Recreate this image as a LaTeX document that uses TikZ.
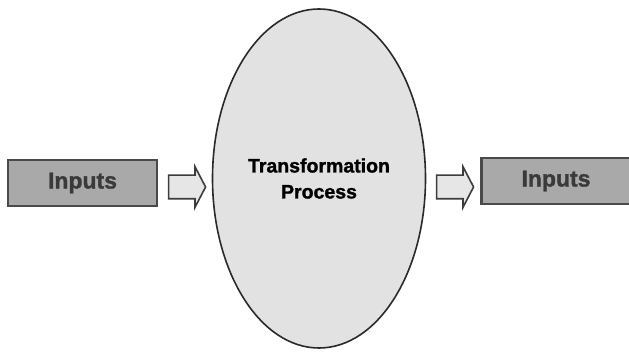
\documentclass[tikz,border=0pt]{standalone}
\usepackage{fontspec}
\setmainfont{Liberation Sans}
\newfontfamily\heavyfont[FakeBold=1.4]{Liberation Sans Bold}
\usetikzlibrary{shapes.geometric,shapes.arrows}
\definecolor{boxfill}{HTML}{A9A9A9}
\definecolor{boxedge}{HTML}{4A4A4A}
\definecolor{boxtext}{HTML}{3A3A3A}
\definecolor{ovalfill}{HTML}{E2E2E2}
\definecolor{ovaledge}{HTML}{2A2A2A}
\definecolor{arrowfill}{HTML}{E6E6E6}
\definecolor{arrowedge}{HTML}{3C3C3C}
\begin{document}
\begin{tikzpicture}[x=1pt,y=-1pt,
  inbox/.style={draw=boxedge,line width=2.2pt,fill=boxfill,
    minimum width=149pt,minimum height=46pt,inner sep=0pt,
    font=\heavyfont\fontsize{23}{24}\selectfont,text=boxtext},
  blockarrow/.style={single arrow,draw=arrowedge,line width=1.6pt,fill=arrowfill,
    minimum height=37pt,inner xsep=0pt,inner ysep=11pt,
    single arrow head extend=8.5pt,single arrow tip angle=125},
  oval/.style={ellipse,draw=ovaledge,line width=1.6pt,fill=ovalfill,
    minimum width=213pt,minimum height=339pt,inner sep=0pt,align=center,
    font=\heavyfont\fontsize{19.5}{26}\selectfont,text=black}]
  \useasboundingbox (0,0) rectangle (629,352);
  \fill[white] (0,0) rectangle (629,352);

  % input block, transformation oval, output block
  \node[inbox] (in) at (82.5,183) {Inputs};
  \node[oval] (proc) at (319,178.5) {Transformation\\Process};
  \node[inbox] (out) at (556,181) {Inputs};

  % hollow block arrows between the stages
  \node[blockarrow] (a1) at (184,187) {};
  \node[blockarrow] (a2) at (452,187) {};
\end{tikzpicture}
\end{document}
